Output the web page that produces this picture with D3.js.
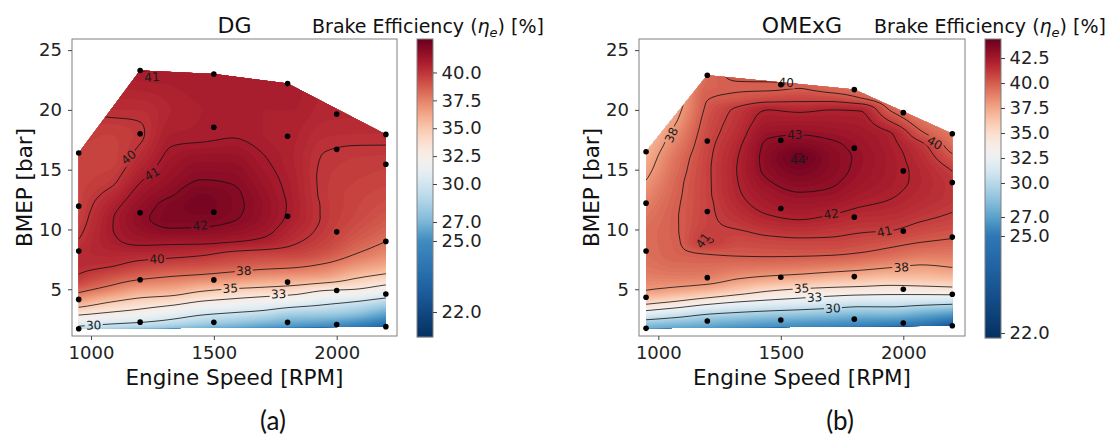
<!DOCTYPE html>
<html>
<head>
<meta charset="utf-8">
<script src="https://cdn.jsdelivr.net/npm/d3@7"></script>
<style>
  body { margin: 0; background: #fff; }
  svg text { font-family: 'DejaVu Sans', sans-serif; }
</style>
</head>
<body>
<svg id="chart" width="1118" height="437"></svg>
<script>
// ── Data ────────────────────────────────────────────────────

// measured operating points [rpm, bmep]
const pointsDG = [
  [950, 1.7], [950, 4.15], [950, 8.2], [950, 11.95], [950, 16.4],
  [1200, 2.25], [1200, 5.8], [1200, 11.4], [1200, 18.0], [1200, 23.3],
  [1500, 2.23], [1500, 5.78], [1500, 11.45], [1500, 18.55], [1500, 23.0],
  [1800, 2.23], [1800, 5.6], [1800, 11.1], [1800, 17.8], [1800, 22.2],
  [2000, 2.05], [2000, 4.9], [2000, 9.8], [2000, 16.7], [2000, 19.65],
  [2200, 1.87], [2200, 4.6], [2200, 9.0], [2200, 15.45], [2200, 17.95]
];
const pointsOME = [
  [950, 1.73], [950, 4.33], [950, 8.2], [950, 12.2], [950, 16.5],
  [1200, 2.35], [1200, 5.97], [1200, 11.5], [1200, 17.4], [1200, 22.9],
  [1500, 2.43], [1500, 6.0], [1500, 11.75], [1500, 17.45], [1500, 22.1],
  [1800, 2.5], [1800, 6.06], [1800, 11.03], [1800, 16.8], [1800, 21.7],
  [2000, 2.18], [2000, 5.0], [2000, 9.86], [2000, 14.9], [2000, 19.77],
  [2200, 1.95], [2200, 4.58], [2200, 9.36], [2200, 13.93], [2200, 18.0]
];

// efficiency map sampled on a coarse grid: one list per rpm column, one value per bmep row
const rpmCols = [950, 1075, 1200, 1325, 1450, 1575, 1700, 1825, 1950, 2075, 2200];

const bmepRowsDG = [1, 2, 3, 4, 5, 6, 7, 8, 9, 10, 11, 12, 13, 14, 16, 18, 20, 22, 24];
const effDG = [
  [27.0, 30.3, 33.5, 36.4, 38.5, 39.85, 40.25, 40.3, 40.05, 39.8, 39.6, 39.5, 39.5, 39.5, 39.55, 39.7, 40.0, 40.4, 40.8],
  [25.5, 29.7, 32.8, 35.2, 37.5, 39.0, 40.1, 40.5, 40.8, 40.9, 40.85, 40.6, 40.2, 39.8, 39.5, 39.6, 40.2, 40.6, 41.0],
  [24.0, 29.2, 32.2, 34.4, 36.5, 38.3, 39.6, 40.5, 41.2, 41.6, 41.8, 41.6, 41.3, 40.97, 40.3, 39.9, 40.2, 40.7, 41.2],
  [23.5, 28.6, 31.3, 33.9, 36.2, 37.9, 39.3, 40.4, 41.2, 41.95, 42.3, 42.25, 41.9, 41.6, 41.2, 40.8, 40.6, 40.8, 41.1],
  [23.0, 27.8, 30.4, 33.0, 35.4, 37.6, 39.1, 40.2, 41.2, 41.9, 42.35, 42.5, 42.4, 42.05, 41.5, 40.85, 40.8, 40.9, 41.0],
  [22.8, 27.2, 29.9, 32.5, 34.9, 37.2, 38.8, 39.8, 41.05, 41.7, 42.1, 42.2, 42.15, 41.95, 41.5, 40.95, 40.85, 40.9, 40.95],
  [22.5, 26.5, 29.4, 32.0, 34.6, 36.8, 38.5, 39.6, 40.8, 41.3, 41.55, 41.6, 41.5, 41.35, 41.05, 40.8, 40.8, 40.85, 40.9],
  [22.2, 25.8, 28.5, 31.5, 34.2, 36.6, 38.3, 39.5, 40.15, 40.5, 40.75, 40.8, 40.75, 40.7, 40.6, 40.65, 40.8, 40.85, 40.85],
  [22.0, 25.3, 28.3, 30.7, 33.3, 36.3, 37.8, 39.0, 39.55, 39.8, 39.9, 39.9, 39.85, 39.85, 39.95, 40.25, 40.5, 40.6, 40.6],
  [21.8, 24.6, 27.7, 30.1, 33.0, 35.2, 36.9, 38.05, 38.7, 39.1, 39.35, 39.45, 39.5, 39.6, 39.8, 40.2, 40.45, 40.5, 40.5],
  [21.5, 23.5, 26.3, 29.2, 32.1, 34.4, 36.2, 37.3, 38.0, 38.5, 38.85, 39.1, 39.3, 39.45, 39.75, 40.2, 40.4, 40.4, 40.4]
];

const bmepRowsOME = [1, 2, 3, 4, 5, 6, 7, 8, 9, 10, 11, 12, 13, 14, 15, 16, 17, 18, 19, 20, 21, 22, 23, 24];
const effOME = [
  [26.0, 28.4, 32.2, 35.8, 38.1, 38.8, 39.2, 39.4, 39.45, 39.4, 39.2, 38.9, 38.5, 38.05, 37.6, 37.2, 36.8, 36.4, 36.0, 35.6, 35.3, 35.0, 34.7, 34.5],
  [25.5, 27.9, 31.3, 35.0, 37.7, 38.9, 39.5, 39.8, 39.9, 39.95, 39.95, 39.9, 39.8, 39.7, 39.5, 39.3, 38.9, 38.5, 38.0, 37.6, 37.2, 36.8, 36.5, 36.2],
  [25.0, 27.4, 30.3, 34.0, 37.2, 38.8, 39.5, 40.05, 41.05, 40.85, 40.8, 40.8, 40.85, 40.85, 40.85, 40.8, 40.7, 40.55, 40.4, 40.2, 39.95, 39.7, 39.5, 39.3],
  [24.6, 26.9, 29.8, 33.2, 36.3, 38.2, 39.35, 40.15, 40.6, 41.0, 41.4, 41.7, 41.9, 42.0, 42.05, 42.0, 41.85, 41.6, 41.4, 41.2, 40.2, 39.9, 40.2, 40.2],
  [24.3, 26.5, 29.4, 32.7, 35.4, 37.8, 39.3, 40.2, 40.7, 41.35, 41.9, 42.3, 42.6, 42.95, 43.25, 43.35, 43.2, 42.85, 42.4, 42.0, 40.5, 39.85, 40.4, 40.4],
  [24.0, 26.2, 29.1, 32.3, 34.9, 37.5, 39.2, 40.2, 40.8, 41.5, 42.1, 42.55, 42.95, 43.4, 43.8, 44.1, 43.55, 42.95, 42.45, 41.85, 40.65, 39.95, 40.4, 40.4],
  [23.7, 25.9, 28.8, 31.8, 34.6, 37.1, 39.0, 40.15, 40.8, 41.35, 41.9, 42.4, 42.85, 43.15, 43.35, 43.4, 43.2, 42.8, 42.4, 42.0, 40.55, 39.6, 39.8, 39.8],
  [23.4, 25.6, 28.4, 31.4, 34.4, 36.8, 38.7, 39.95, 40.6, 41.15, 41.6, 42.05, 42.4, 42.65, 42.8, 42.85, 42.75, 42.55, 42.3, 41.95, 40.0, 39.3, 39.0, 38.8],
  [23.1, 25.2, 28.4, 31.4, 34.2, 36.5, 38.3, 39.6, 40.35, 41.05, 41.5, 41.85, 42.1, 42.25, 42.3, 42.3, 42.2, 42.05, 41.0, 39.9, 39.2, 38.8, 38.5, 38.3],
  [22.8, 24.8, 27.7, 31.2, 34.3, 36.6, 37.95, 39.2, 40.05, 40.65, 41.15, 41.5, 41.7, 41.8, 41.75, 41.55, 41.25, 40.2, 39.4, 38.8, 38.4, 38.1, 37.9, 37.7],
  [21.5, 23.6, 27.0, 31.0, 34.5, 36.8, 38.2, 39.1, 39.85, 40.4, 40.85, 41.15, 41.3, 41.25, 40.95, 40.25, 39.5, 39.0, 38.6, 38.3, 38.0, 37.8, 37.6, 37.4]
];

// contour line levels
const levelsDG  = [30, 33, 35, 38, 40, 41, 42];
const levelsOME = [30, 33, 35, 38, 40, 41, 42, 43, 44];

// inline contour labels [text, rpm, bmep, angle]
const labelsDG = [
  ['41', 1248, 22.75, -3], ['40', 1153, 16.05, -40], ['41', 1248, 14.66, -30],
  ['42', 1445, 10.33, -5], ['40', 1269, 7.54, -3], ['38', 1622, 6.56, -2],
  ['35', 1567, 5.08, -2], ['33', 1764, 4.6, -2], ['30', 1011, 2.0, -2]
];
const labelsOME = [
  ['40', 1522, 22.3, 3], ['38', 1053, 17.9, -65], ['43', 1557, 17.9, 0],
  ['44', 1570, 15.8, 0], ['41', 1182, 9.07, -55], ['40', 2128, 17.25, 30],
  ['42', 1706, 11.3, -8], ['41', 1924, 9.83, -12], ['38', 1992, 6.84, -3],
  ['35', 1585, 5.08, -3], ['33', 1638, 4.33, -3], ['30', 1713, 3.41, -3]
];

// axis and colorbar ticks
const xTicks = [1000, 1500, 2000];
const yTicks = [5, 10, 15, 20, 25];
const cbTicksDG  = [22, 25, 27, 30, 32.5, 35, 37.5, 40];
const cbTicksOME = [22, 25, 27, 30, 32.5, 35, 37.5, 40, 42.5];

// ── Layout ──────────────────────────────────────────────────
const panels = [
  {
    id: 'dg', title: 'DG', caption: '(a)', captionX: 273, cbTitleX: 428,
    points: pointsDG, rows: bmepRowsDG, eff: effDG, levels: levelsDG, labels: labelsDG, cbTicks: cbTicksDG,
    box: { left: 72, right: 397, top: 39, bottom: 336 },
    xDomain: [922.7, 2245.4], yDomain: [1.09, 25.93],
    cb: { left: 417, right: 433, top: 39, bottom: 337 },
    cbDomain: [21, 22, 25, 27, 30, 43], cbRange: [337, 312, 241, 222, 184, 39],
    vmin: 21, vmax: 43
  },
  {
    id: 'ome', title: 'OMExG', caption: '(b)', captionX: 840, cbTitleX: 990,
    points: pointsOME, rows: bmepRowsOME, eff: effOME, levels: levelsOME, labels: labelsOME, cbTicks: cbTicksOME,
    box: { left: 639, right: 965, top: 39, bottom: 336 },
    xDomain: [921.2, 2251.8], yDomain: [1.09, 25.93],
    cb: { left: 985, right: 1001, top: 39, bottom: 338 },
    cbDomain: [21.85, 22, 25, 27, 30, 44.4], cbRange: [338, 333, 236, 217, 183, 39],
    vmin: 21.85, vmax: 44.4
  }
];

const svg = d3.select('#chart');
const defs = svg.append('defs');

// monotone cubic interpolation through (xs, ys)
function monoInterp(xs, ys) {
  const n = xs.length, d = [], m = new Array(n);
  for (let i = 0; i < n - 1; i++) d.push((ys[i + 1] - ys[i]) / (xs[i + 1] - xs[i]));
  m[0] = d[0]; m[n - 1] = d[n - 2];
  for (let i = 1; i < n - 1; i++) {
    if (d[i - 1] * d[i] <= 0) { m[i] = 0; continue; }
    const h0 = xs[i] - xs[i - 1], h1 = xs[i + 1] - xs[i];
    m[i] = 3 * (h0 + h1) / ((2 * h1 + h0) / d[i - 1] + (h1 + 2 * h0) / d[i]);
  }
  return x => {
    if (x <= xs[0]) return ys[0];
    if (x >= xs[n - 1]) return ys[n - 1];
    const i = Math.min(d3.bisectRight(xs, x) - 1, n - 2);
    const h = xs[i + 1] - xs[i], t = (x - xs[i]) / h, t2 = t * t, t3 = t2 * t;
    return (2 * t3 - 3 * t2 + 1) * ys[i] + (t3 - 2 * t2 + t) * h * m[i]
         + (-2 * t3 + 3 * t2) * ys[i + 1] + (t3 - t2) * h * m[i + 1];
  };
}

function drawPanel(p) {
  const b = p.box;
  const x = d3.scaleLinear().domain(p.xDomain).range([b.left, b.right]);
  const y = d3.scaleLinear().domain(p.yDomain).range([b.bottom, b.top]);
  const color = v => d3.interpolateRdBu(1 - Math.max(0, Math.min(1, (v - p.vmin) / (p.vmax - p.vmin))));

  // ── Sample the map on a fine pixel grid ───────────────────
  const cell = 2;
  const nx = Math.ceil((b.right - b.left) / cell);
  const ny = Math.ceil((b.bottom - b.top) / cell);
  const colFns = p.eff.map(col => monoInterp(p.rows, col));
  const values = new Float64Array(nx * ny);
  for (let j = 0; j < ny; j++) {
    const bmep = y.invert(b.top + (j + 0.5) * cell);
    const rowFn = monoInterp(rpmCols, colFns.map(f => f(bmep)));
    for (let i = 0; i < nx; i++) {
      values[j * nx + i] = rowFn(x.invert(b.left + (i + 0.5) * cell));
    }
  }
  const path = d3.geoPath(d3.geoTransform({
    point(gx, gy) { this.stream.point(b.left + gx * cell, b.top + gy * cell); }
  }));

  // ── Convex hull of the operating points ───────────────────
  const hull = d3.polygonHull(p.points.map(d => [x(d[0]), y(d[1])]));
  defs.append('clipPath').attr('id', `hull-${p.id}`)
    .append('path').attr('d', 'M' + hull.join('L') + 'Z');

  // ── Filled contours ───────────────────────────────────────
  const step = 0.2;
  const fillLevels = d3.range(20, 45.01, step);
  const fills = d3.contours().size([nx, ny]).thresholds(fillLevels)(values);

  svg.append('g')
    .attr('clip-path', `url(#hull-${p.id})`)
    .selectAll('path')
    .data(fills)
    .join('path')
    .attr('d', path)
    .attr('fill', d => color(d.value + step / 2))
    .attr('stroke', 'none');

  // ── Contour lines, broken under labels ────────────────────
  const mask = defs.append('mask').attr('id', `lbl-${p.id}`)
    .attr('maskUnits', 'userSpaceOnUse')
    .attr('x', 0).attr('y', 0).attr('width', 1118).attr('height', 437);
  mask.append('rect').attr('width', 1118).attr('height', 437).attr('fill', 'white');
  p.labels.forEach(l => {
    mask.append('rect')
      .attr('x', -9).attr('y', -6).attr('width', 18).attr('height', 12)
      .attr('transform', `translate(${x(l[1])},${y(l[2])}) rotate(${l[3]})`)
      .attr('fill', 'black');
  });

  const lines = d3.contours().size([nx, ny]).thresholds(p.levels)(values);
  svg.append('g')
    .attr('clip-path', `url(#hull-${p.id})`)
    .append('g')
    .attr('mask', `url(#lbl-${p.id})`)
    .selectAll('path')
    .data(lines)
    .join('path')
    .attr('d', path)
    .attr('fill', 'none')
    .attr('stroke', '#111')
    .attr('stroke-width', 0.8);

  svg.append('g')
    .selectAll('text')
    .data(p.labels)
    .join('text')
    .attr('transform', l => `translate(${x(l[1])},${y(l[2])}) rotate(${l[3]})`)
    .attr('text-anchor', 'middle')
    .attr('dy', '0.36em')
    .attr('font-size', 12)
    .attr('fill', '#1a1a1a')
    .text(l => l[0]);

  // ── Frame and axes ────────────────────────────────────────
  svg.append('rect')
    .attr('x', b.left).attr('y', b.top)
    .attr('width', b.right - b.left).attr('height', b.bottom - b.top)
    .attr('fill', 'none').attr('stroke', '#808080').attr('stroke-width', 1);

  const gx = svg.append('g')
    .attr('transform', `translate(0,${b.bottom})`)
    .call(d3.axisBottom(x).tickValues(xTicks).tickFormat(d3.format('d')).tickSize(4).tickPadding(6));
  const gy = svg.append('g')
    .attr('transform', `translate(${b.left},0)`)
    .call(d3.axisLeft(y).tickValues(yTicks).tickFormat(d3.format('d')).tickSize(4).tickPadding(6));
  [gx, gy].forEach(g => {
    g.select('.domain').remove();
    g.attr('font-size', 18).attr('font-family', 'DejaVu Sans');
    g.selectAll('.tick line').attr('stroke', '#444');
    g.selectAll('.tick text').attr('fill', '#222');
  });

  // ── Measured points ───────────────────────────────────────
  svg.append('g')
    .selectAll('circle')
    .data(p.points)
    .join('circle')
    .attr('cx', d => x(d[0]))
    .attr('cy', d => y(d[1]))
    .attr('r', 2.8)
    .attr('fill', '#000');

  // ── Titles and axis labels ────────────────────────────────
  const cx = (b.left + b.right) / 2;
  svg.append('text')
    .attr('x', cx).attr('y', 32.7)
    .attr('text-anchor', 'middle')
    .attr('font-size', 22).attr('fill', '#111')
    .text(p.title);

  svg.append('text')
    .attr('x', cx).attr('y', 385)
    .attr('text-anchor', 'middle')
    .attr('font-size', 21.5).attr('fill', '#111')
    .text('Engine Speed [RPM]');

  svg.append('text')
    .attr('transform', `translate(${b.left - 40},${(b.top + b.bottom) / 2}) rotate(-90)`)
    .attr('text-anchor', 'middle')
    .attr('font-size', 21.5).attr('fill', '#111')
    .text('BMEP [bar]');

  svg.append('text')
    .attr('x', p.captionX).attr('y', 430)
    .attr('text-anchor', 'middle')
    .attr('font-size', 26).attr('fill', '#111')
    .style('font-family', 'Lato, sans-serif')
    .text(p.caption);

  // ── Colorbar ──────────────────────────────────────────────
  const c = p.cb;
  const cb = d3.scaleLinear().domain(p.cbDomain).range(p.cbRange);
  svg.append('g')
    .selectAll('rect')
    .data(d3.range(c.top, c.bottom))
    .join('rect')
    .attr('x', c.left).attr('y', d => d)
    .attr('width', c.right - c.left).attr('height', 1.2)
    .attr('fill', d => color(cb.invert(d + 0.5)));

  svg.append('rect')
    .attr('x', c.left).attr('y', c.top)
    .attr('width', c.right - c.left).attr('height', c.bottom - c.top)
    .attr('fill', 'none').attr('stroke', '#808080').attr('stroke-width', 1);

  const gc = svg.append('g')
    .attr('transform', `translate(${c.right},0)`)
    .call(d3.axisRight(cb).tickValues(p.cbTicks).tickFormat(d3.format('.1f')).tickSize(4).tickPadding(4.5));
  gc.select('.domain').remove();
  gc.attr('font-size', 18).attr('font-family', 'DejaVu Sans');
  gc.selectAll('.tick line').attr('stroke', '#444');
  gc.selectAll('.tick text').attr('fill', '#222');

  const ct = svg.append('text')
    .attr('x', p.cbTitleX).attr('y', 32.7)
    .attr('text-anchor', 'middle')
    .attr('font-size', 19).attr('fill', '#111');
  ct.append('tspan').text('Brake Efficiency (');
  ct.append('tspan').attr('font-style', 'italic').text('η');
  ct.append('tspan').attr('font-style', 'italic').attr('font-size', 13).attr('dy', 4).text('e');
  ct.append('tspan').attr('dy', -4).text(') [%]');
}

panels.forEach(drawPanel);
</script>
</body>
</html>
